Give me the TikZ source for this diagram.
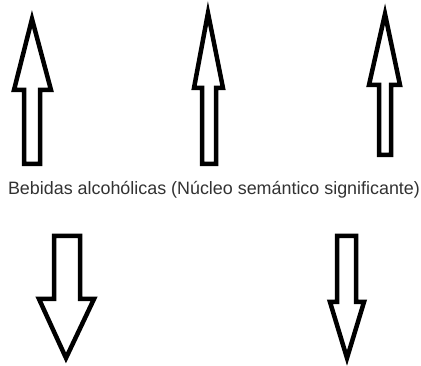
\documentclass[tikz,border=0pt]{standalone}
\usepackage{fontspec}
\setmainfont{Liberation Sans}
\usetikzlibrary{positioning}
\definecolor{textgray}{RGB}{50,50,50}
\begin{document}
\begin{tikzpicture}[x=1pt,y=-1pt,
    blockarrow/.style={draw=black,line width=4.5pt,line join=miter,miter limit=20}]
        \useasboundingbox (0,0) rectangle (421,366);
        % draw the upward arrows (shaft left/right, head left/right, tip x/y, head y, bottom y)
        \foreach \sl/\sr/\hl/\hr/\tx/\ty/\hy/\by in
            {24/40/14/51/32/19/90/164, 202/216/194/223/208/13/88/164, 379/391/369/400/385/14/85/155}
        \draw[blockarrow] (\sl,\by) -- (\sl,\hy) -- (\hl,\hy) -- (\tx,\ty) -- (\hr,\hy) -- (\sr,\hy) -- (\sr,\by) -- cycle;
        % draw the text in the middle
        \node[text=textgray,inner sep=0pt,font=\fontsize{17.9}{21}\selectfont] (kern) at (214,190) {Bebidas alcohólicas (Núcleo semántico significante)};
        % draw the downward arrows
        \foreach \sl/\sr/\hl/\hr/\tx/\ty/\hy/\by in
            {54/80/39/94/66/358/299/236, 337/356/330/364/347/358/302/236}
        \draw[blockarrow] (\sl,\by) -- (\sl,\hy) -- (\hl,\hy) -- (\tx,\ty) -- (\hr,\hy) -- (\sr,\hy) -- (\sr,\by) -- cycle;
\end{tikzpicture}
\end{document}
